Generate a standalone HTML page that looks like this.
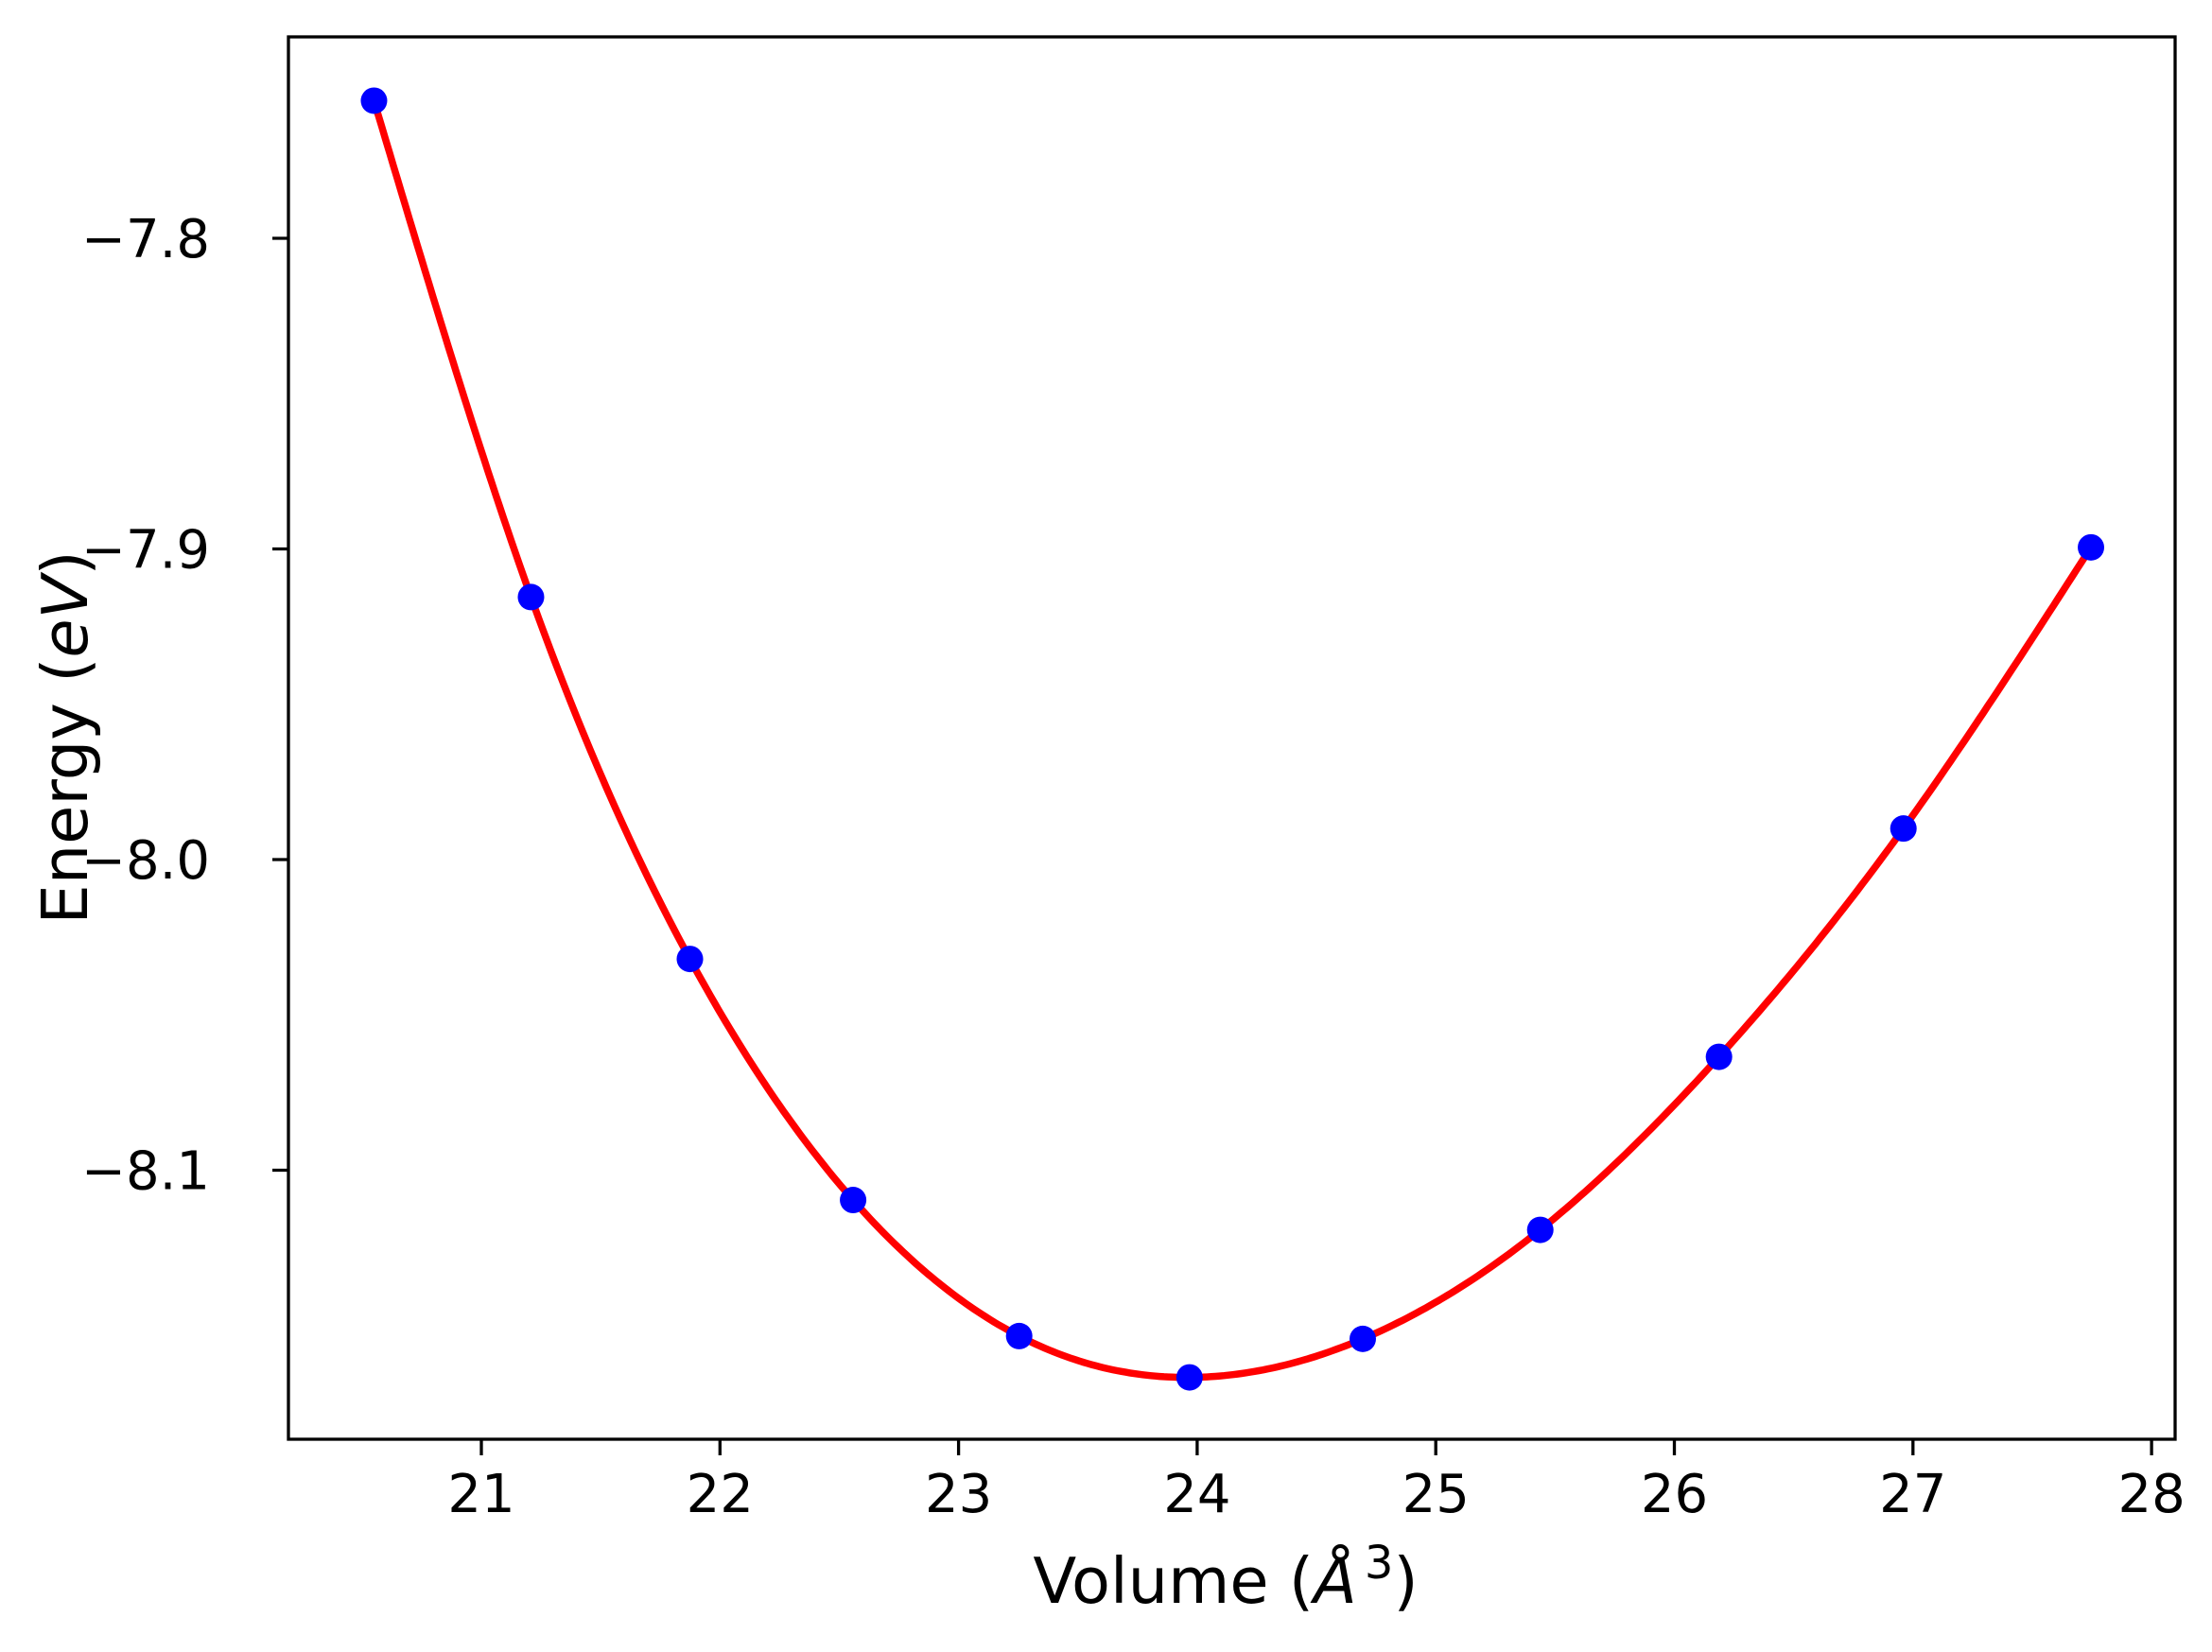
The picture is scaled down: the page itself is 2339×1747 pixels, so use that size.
<!DOCTYPE html>
<html><head><meta charset="utf-8"><style>
html,body{margin:0;padding:0;background:#fff;}
svg{display:block;font-family:"DejaVu Sans","Liberation Sans",sans-serif;}
</style></head><body>
<svg id="chart" width="2339" height="1747" xmlns="http://www.w3.org/2000/svg">
<rect width="2339" height="1747" fill="#fff"/>
<g id="plot"></g>
<rect x="305" y="39" width="1995" height="1483" fill="none" stroke="#000" stroke-width="3.3"/>
<g id="xticks"></g><g id="yticks"></g>
<text x="1296" y="1695" font-size="67" text-anchor="middle">Volume (<tspan font-style="italic">Å</tspan><tspan font-size="48" dx="8" dy="-26">3</tspan><tspan dy="26">)</tspan></text>
<text transform="translate(92,780) rotate(-90)" font-size="67" text-anchor="middle">Energy (<tspan font-style="italic">eV</tspan>)</text>
</svg>
<script>
const volumes=[20.55,21.208,21.874,22.558,23.254,23.968,24.694,25.438,26.187,26.96,27.746];
const energies=[-7.7557,-7.9155,-8.032,-8.1096,-8.1534,-8.1667,-8.1543,-8.1192,-8.0635,-7.99,-7.8995];
const xTicks=[21,22,23,24,25,26,27,28];
const yTicks=[-7.8,-7.9,-8.0,-8.1];
const yTickLabels=["\u22127.8","\u22127.9","\u22128.0","\u22128.1"];
const NS="http://www.w3.org/2000/svg";
function X(v){return 509+(v-21)*252.3;}
function Y(e){return 252+(-7.8-e)*3285;}
function mk(t,a,p){const el=document.createElementNS(NS,t);for(const k in a)el.setAttribute(k,a[k]);p.appendChild(el);return el;}
const n=volumes.length,h=[],al=[],l=[1],mu=[0],z=[0],c=new Array(n).fill(0),b=[],d=[];
for(let i=0;i<n-1;i++)h[i]=volumes[i+1]-volumes[i];
for(let i=1;i<n-1;i++)al[i]=3/h[i]*(energies[i+1]-energies[i])-3/h[i-1]*(energies[i]-energies[i-1]);
for(let i=1;i<n-1;i++){l[i]=2*(volumes[i+1]-volumes[i-1])-h[i-1]*mu[i-1];mu[i]=h[i]/l[i];z[i]=(al[i]-h[i-1]*z[i-1])/l[i];}
l[n-1]=1;z[n-1]=0;
for(let j=n-2;j>=0;j--){c[j]=z[j]-mu[j]*c[j+1];b[j]=(energies[j+1]-energies[j])/h[j]-h[j]*(c[j+1]+2*c[j])/3;d[j]=(c[j+1]-c[j])/(3*h[j]);}
let pts=[];
for(let j=0;j<n-1;j++){for(let k=0;k<40;k++){const t=h[j]*k/40;const e=energies[j]+b[j]*t+c[j]*t*t+d[j]*t*t*t;pts.push(X(volumes[j]+t).toFixed(1)+","+Y(e).toFixed(1));}}
pts.push(X(volumes[n-1]).toFixed(1)+","+Y(energies[n-1]).toFixed(1));
const plot=document.getElementById('plot');
const line=mk('polyline',{points:pts.join(' '),fill:'none',stroke:'#ff0000','stroke-width':7.5,'stroke-linejoin':'round'},plot);


volumes.forEach((v,i)=>{
  const p=mk('circle',{cx:X(v),cy:Y(energies[i]),r:14,fill:'#0000ff'},plot);
  
  
});
const xg=document.getElementById('xticks');
xTicks.forEach(v=>{
  const t=mk('line',{x1:X(v),x2:X(v),y1:1522,y2:1539,stroke:'#000','stroke-width':3.3},xg);
  
  
  const tx=mk('text',{x:X(v),y:1599,'font-size':56,'text-anchor':'middle'},xg);
  tx.textContent=String(v);
  
  
});
const yg=document.getElementById('yticks');
yTicks.forEach((v,i)=>{
  const t=mk('line',{x1:288,x2:305,y1:Y(v),y2:Y(v),stroke:'#000','stroke-width':3.3},yg);
  
  
  const tx=mk('text',{x:222,y:Y(v)+20,'font-size':56,'text-anchor':'end'},yg);
  tx.textContent=yTickLabels[i];
  
  
});
</script>
</body></html>
